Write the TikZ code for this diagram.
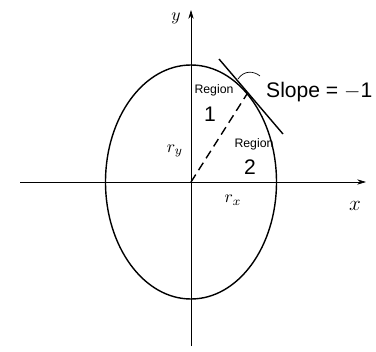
\documentclass[tikz,border=0pt]{standalone}
\usepackage{fontspec}
\setsansfont{Liberation Sans}
\usetikzlibrary{arrows.meta,calc,positioning}

\begin{document}
\begin{tikzpicture}[x=0.02cm,y=-0.02cm,
    axis/.style={thin,-{Stealth[length=5pt,width=3pt]}},
    curve/.style={thick},
    regionlbl/.style={font=\sffamily\scriptsize,inner sep=1pt},
    num/.style={font=\sffamily\large,inner sep=1pt}]
  \useasboundingbox (0,0) rectangle (376,352);
  \coordinate (O) at (191,182);
  % axes
  \coordinate (xs) at (20,182);
  \coordinate (xe) at (366,182);
  \coordinate (ys) at (191,346);
  \coordinate (ye) at (191,10);
  \draw[axis] (xs) -- (xe);
  \draw[axis] (ys) -- (ye);
  \node (xlab) at (355,206) {\large$x$};
  \node (ylab) at (176,18) {$y$};
  % ellipse
  \draw[curve] (O) ellipse [x radius=85.5, y radius=117];
  % tangent line, slope -1
  \coordinate (P) at (247,94);
  \coordinate (t1) at (219,59);
  \coordinate (t2) at (283,134);
  \draw[curve] (t1) -- (t2);
  \draw[thick,dash pattern=on 5pt off 3pt] (O) -- (P);
  \node[font=\sffamily\large,anchor=west] (slope) at (260,92) {Slope = $-$1};
  \coordinate (lead) at (238,79);
  \draw (lead) .. controls (244,70) and (254,71) .. (slope.north west);
  % region labels
  \node[regionlbl] (reg1) at (214,90) {Region};
  \node[num] (one) at (210,114) {1};
  \node[regionlbl] (reg2) at (254,144) {Region};
  \node[num] (two) at (250,167) {2};
  % radii
  \node (ry) at (175,151) {$r_y$};
  \node (rx) at (233,200) {$r_x$};
\end{tikzpicture}
\end{document}
